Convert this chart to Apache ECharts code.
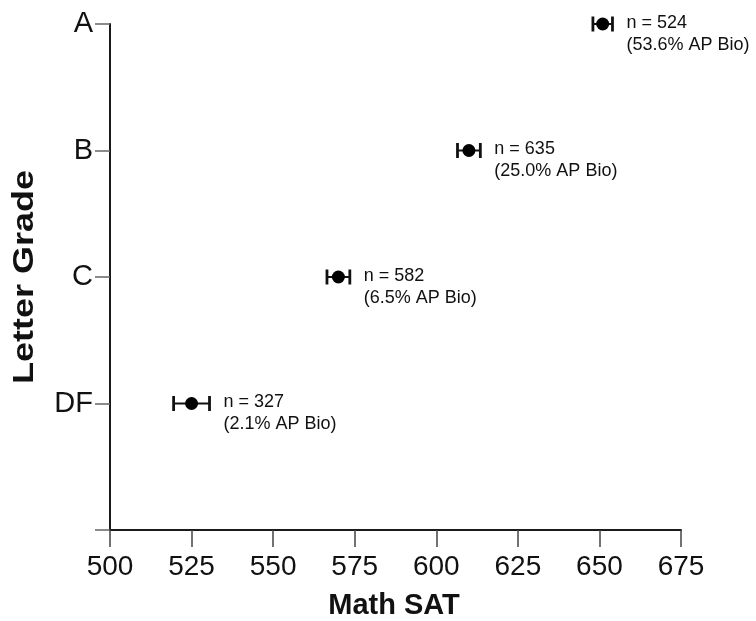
<!DOCTYPE html>
<html>
<head>
<meta charset="utf-8">
<script src="https://cdn.jsdelivr.net/npm/echarts@6/dist/echarts.min.js"></script>
<style>
html,body{margin:0;padding:0;background:#fff;}
#chart{width:756px;height:621px;}
</style>
</head>
<body>
<div id="chart"></div>
<script>
// ---- data ----
const yCategories = ['', 'DF', 'C', 'B', 'A'];
const grades = ['A', 'B', 'C', 'DF'];
const meanSAT = [651, 610, 570, 525];
const errSAT = [3, 3.5, 3.5, 5.5];
const nCounts = [524, 635, 582, 327];
const apBioPct = ['53.6', '25.0', '6.5', '2.1'];
const xTicks = [500, 525, 550, 575, 600, 625, 650, 675];

const NARROW = '"Liberation Sans Narrow", "Arial Narrow", "Liberation Sans", Arial, sans-serif';
const SANS = '"Liberation Sans", Arial, Helvetica, sans-serif';

const pts = grades.map((g, i) => [meanSAT[i], g]);
const bars = grades.map((g, i) => [meanSAT[i], g, errSAT[i], nCounts[i], apBioPct[i]]);

const chart = echarts.init(document.getElementById('chart'), null, {renderer: 'canvas'});
chart.setOption({
  animation: false,
  backgroundColor: '#fff',
  grid: {left: 110, right: 75, top: 24, bottom: 91, containLabel: false},
  xAxis: {
    type: 'value',
    min: xTicks[0], max: xTicks[xTicks.length - 1], interval: 25,
    splitLine: {show: false},
    axisLine: {show: true, onZero: false, lineStyle: {color: '#1a1a1a', width: 2}},
    axisTick: {show: true, length: 17, lineStyle: {color: '#444', width: 1.5}},
    axisLabel: {fontFamily: NARROW, fontSize: 28, color: '#111', margin: 23}
  },
  yAxis: {
    type: 'category',
    data: yCategories,
    boundaryGap: false,
    splitLine: {show: false},
    axisLine: {show: true, onZero: false, lineStyle: {color: '#1a1a1a', width: 2}},
    axisTick: {show: true, length: 15, lineStyle: {color: '#666', width: 1.5}},
    axisLabel: {fontFamily: NARROW, fontSize: 29, color: '#111', margin: 17}
  },
  graphic: [
    {
      type: 'text', x: 394, y: 606,
      style: {text: 'Math SAT', font: 'bold 29px ' + SANS, fill: '#111',
              textAlign: 'center', textVerticalAlign: 'middle'}
    },
    {
      type: 'text',
      x: 25, y: 277,
      rotation: Math.PI / 2,
      scaleX: 1, scaleY: 0.82,
      style: {text: 'Letter Grade', font: 'bold 36px ' + SANS, fill: '#111',
              textAlign: 'center', textVerticalAlign: 'middle'}
    }
  ],
  series: [
    {
      type: 'custom',
      data: bars,
      encode: {x: 0, y: 1},
      renderItem: function (params, api) {
        const v = api.value(0);
        const cat = api.value(1);
        const e = api.value(2);
        const lo = api.coord([v - e, cat]);
        const hi = api.coord([v + e, cat]);
        const y = lo[1];
        const h = 7.5;
        const ls = {stroke: '#111', lineWidth: 2};
        const cs = {stroke: '#111', lineWidth: 2.8};
        return {
          type: 'group',
          children: [
            {type: 'line', shape: {x1: lo[0], y1: y, x2: hi[0], y2: y}, style: ls},
            {type: 'line', shape: {x1: lo[0], y1: y - h, x2: lo[0], y2: y + h}, style: cs},
            {type: 'line', shape: {x1: hi[0], y1: y - h, x2: hi[0], y2: y + h}, style: cs},
            {type: 'text', x: hi[0] + 14, y: y - 1,
             style: {text: 'n = ' + api.value(3), font: '18px ' + SANS, fill: '#111',
                     textAlign: 'left', textVerticalAlign: 'middle'}},
            {type: 'text', x: hi[0] + 14, y: y + 21,
             style: {text: '(' + bars[params.dataIndex][4] + '% AP Bio)', font: '18px ' + SANS, fill: '#111',
                     textAlign: 'left', textVerticalAlign: 'middle'}}
          ]
        };
      },
      z: 2
    },
    {
      type: 'scatter',
      data: pts,
      symbol: 'circle',
      symbolSize: 13,
      itemStyle: {color: '#000', opacity: 1},
      z: 3
    }
  ]
});
</script>
</body>
</html>
